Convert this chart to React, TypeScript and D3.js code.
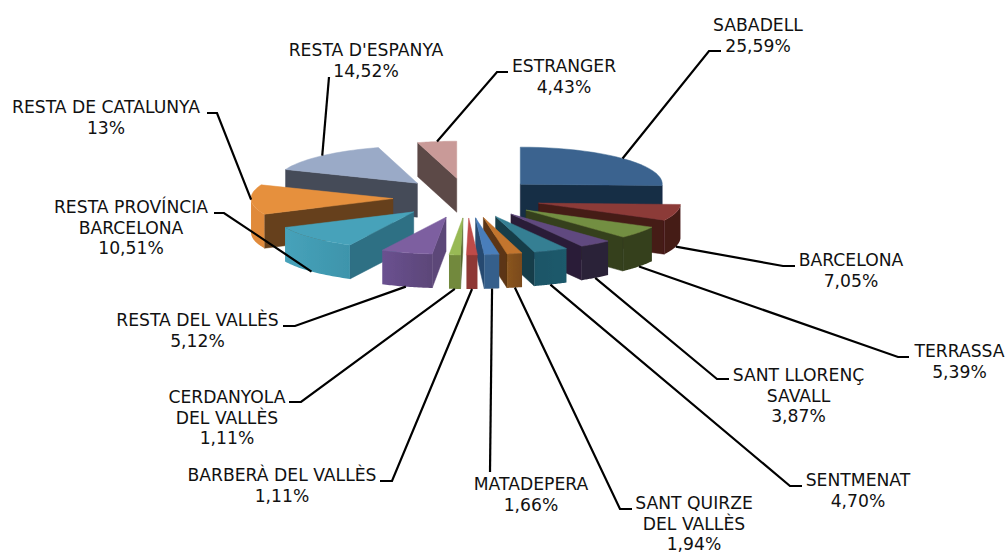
import React from "react";
import * as d3 from "d3";

const categories = ["SABADELL","BARCELONA","TERRASSA","SANT LLORENÇ SAVALL","SENTMENAT","SANT QUIRZE DEL VALLÈS","MATADEPERA","BARBERÀ DEL VALLÈS","CERDANYOLA DEL VALLÈS","RESTA DEL VALLÈS","RESTA PROVÍNCIA BARCELONA","RESTA DE CATALUNYA","RESTA D'ESPANYA","ESTRANGER"];
const values = [25.59,7.05,5.39,3.87,4.70,1.94,1.66,1.11,1.11,5.12,10.51,13,14.52,4.43];
const valueLabels = ["25,59%","7,05%","5,39%","3,87%","4,70%","1,94%","1,66%","1,11%","1,11%","5,12%","10,51%","13%","14,52%","4,43%"];
const labelLines = [["SABADELL"],["BARCELONA"],["TERRASSA"],["SANT LLORENÇ","SAVALL"],["SENTMENAT"],["SANT QUIRZE","DEL VALLÈS"],["MATADEPERA"],["BARBERÀ DEL VALLÈS"],["CERDANYOLA","DEL VALLÈS"],["RESTA DEL VALLÈS"],["RESTA PROVÍNCIA","BARCELONA"],["RESTA DE CATALUNYA"],["RESTA D'ESPANYA"],["ESTRANGER"]];

const topColors = ["#3A648F","#8C3A38","#738F42","#61497F","#347F93","#C3742D","#4A7EBB","#BE4B48","#98B954","#7D5FA0","#46A2BA","#E6903E","#9AAAC7","#C99A98"];
const wallColors = ["#172D45","#451A18","#343F1C","#2A1F37","#143C48","#5C3613","#264A70","#6E2B29","#56682F","#5C4678","#2F6F84","#66401B","#454B59","#5C4846"];
const rimA = ["#172D45","#451A18","#343F1C","#2C2138","#1F5566","#8A5520","#355F8B","#8E3835","#72893E","#6A5190","#46A2BA","#E08A3A","#454B59","#5C4846"];
const rimB = ["#172D45","#451A18","#343F1C","#2C2138","#1F5A6C","#7A4A1C","#355F8B","#8E3835","#72893E","#5C4678","#3E94AB","#E08A3A","#454B59","#5C4846"];

// label layout: centre x, first baseline
const labelX = [758,851,959.5,798.5,858,694,531,282,227,197.5,131,106,366,564];
const labelY = [31,266,357,381,486,509,490,481,403,326,213,113,56,72];
// leader lines after the anchor on the slice
const leaders: number[][][] = [
  [[709,51],[721,51]],[[783,266],[795,266]],[[898,357],[909,357]],[[717,379],[729,379]],
  [[790,486],[802,486]],[[620,509],[632,509]],[[490,472]],[[392,481],[380,481]],
  [[301,402],[289,402]],[[295,326],[283,326]],[[224,213],[214,213]],[[217,113],[207,113]],
  [[329,77]],[[497,72],[508,72]],
];

const WIDTH = 1008, HEIGHT = 554;
const CX = 467, CY = 198, EXPLODE = 74, EXPLODE_Y = 0.27, RX = 142, RY = 37, DEPTH = 34;
const LINE = 20.5;
const FONT = "'DejaVu Sans', Verdana, sans-serif";

const xScale = d3.scaleLinear().domain([-1, 1]).range([-RX, RX]);
const yScale = d3.scaleLinear().domain([-1, 1]).range([RY, -RY]);
const toPath = d3.line<number[]>().x(d => d[0]).y(d => d[1]);

const deg = Math.PI / 180;
// front-facing slices are slightly skewed by the chart's perspective
const warp = (t: number) => t - 4.4 * deg * Math.exp(-Math.pow((t - 177 * deg) / (20 * deg), 2));

const arcs = d3.pie<number>().sort(null).startAngle(0).endAngle(2 * Math.PI)(values);

const slices = arcs.map((a, i) => {
  const mid = (a.startAngle + a.endAngle) / 2;
  const wm = warp(mid);
  const apex = [CX + EXPLODE * Math.sin(wm), CY - EXPLODE * EXPLODE_Y * Math.cos(wm)];
  const rim = (t: number) => {
    const w = warp(t);
    return [apex[0] + xScale(Math.sin(w)), apex[1] + yScale(Math.cos(w))];
  };
  const down = (p: number[]) => [p[0], p[1] + DEPTH];
  const n = 24;
  const rimPts = d3.range(n + 1).map(k => rim(a.startAngle + (a.endAngle - a.startAngle) * k / n));
  const f0 = Math.max(a.startAngle, Math.PI / 2), f1 = Math.min(a.endAngle, 1.5 * Math.PI);
  const frontPts = f1 > f0 ? d3.range(n + 1).map(k => rim(f0 + (f1 - f0) * k / n)) : [];
  const wall = (p: number[]) => {
    const m = rim(mid);
    const ex = p[0] - apex[0], ey = p[1] - apex[1];
    const cDown = ex, cMid = ex * (m[1] - apex[1]) - ey * (m[0] - apex[0]);
    return cDown * cMid < 0 ? [apex, p, down(p), down(apex)] : null;
  };
  const anchorTop = rim(mid);
  const anchor = Math.cos(mid) < -0.1 ? down(anchorTop) : anchorTop;
  return {
    i, apex,
    top: [apex, ...rimPts],
    rimWall: frontPts.length ? [...frontPts, ...frontPts.slice().reverse().map(down)] : null,
    walls: [wall(rim(a.startAngle)), wall(rim(a.endAngle))].filter(Boolean) as number[][][],
    leader: [anchor, ...leaders[i]],
  };
});
const order = slices.slice().sort((a, b) => a.apex[1] - b.apex[1]);

export default function App() {
  return (
    <svg width={WIDTH} height={HEIGHT} style={{ position: "absolute", left: 0, top: 0, background: "#fff" }}>
      <defs>
        <filter id="soft" x="-2%" y="-2%" width="104%" height="104%">
          <feGaussianBlur stdDeviation="0.35" />
        </filter>
        {slices.map(s => (
          <linearGradient key={s.i} id={`rim${s.i}`} x1="0" x2="1" y1="0" y2="0">
            <stop offset="0" stopColor={rimA[s.i]} />
            <stop offset="1" stopColor={rimB[s.i]} />
          </linearGradient>
        ))}
      </defs>
      <g filter="url(#soft)">
        {order.map(s => (
          <g key={s.i}>
            {s.walls.map((w, k) => (
              <path key={k} d={toPath(w) + "Z"} fill={wallColors[s.i]} stroke={wallColors[s.i]} strokeWidth={0.5} />
            ))}
            {s.rimWall && <path d={toPath(s.rimWall) + "Z"} fill={`url(#rim${s.i})`} />}
            <path d={toPath(s.top) + "Z"} fill={topColors[s.i]} stroke={topColors[s.i]} strokeWidth={0.5} />
          </g>
        ))}
        {slices.map(s => (
          <path key={s.i} d={toPath(s.leader) ?? ""} fill="none" stroke="#000" strokeWidth={2.2} />
        ))}
      </g>
      {categories.map((c, i) => (
        <text key={c} x={labelX[i]} y={labelY[i]} textAnchor="middle" fontFamily={FONT} fontSize={17.2} fill="#111">
          {[...labelLines[i], valueLabels[i]].map((t, k) => (
            <tspan key={k} x={labelX[i]} y={labelY[i] + k * LINE}>{t}</tspan>
          ))}
        </text>
      ))}
    </svg>
  );
}
